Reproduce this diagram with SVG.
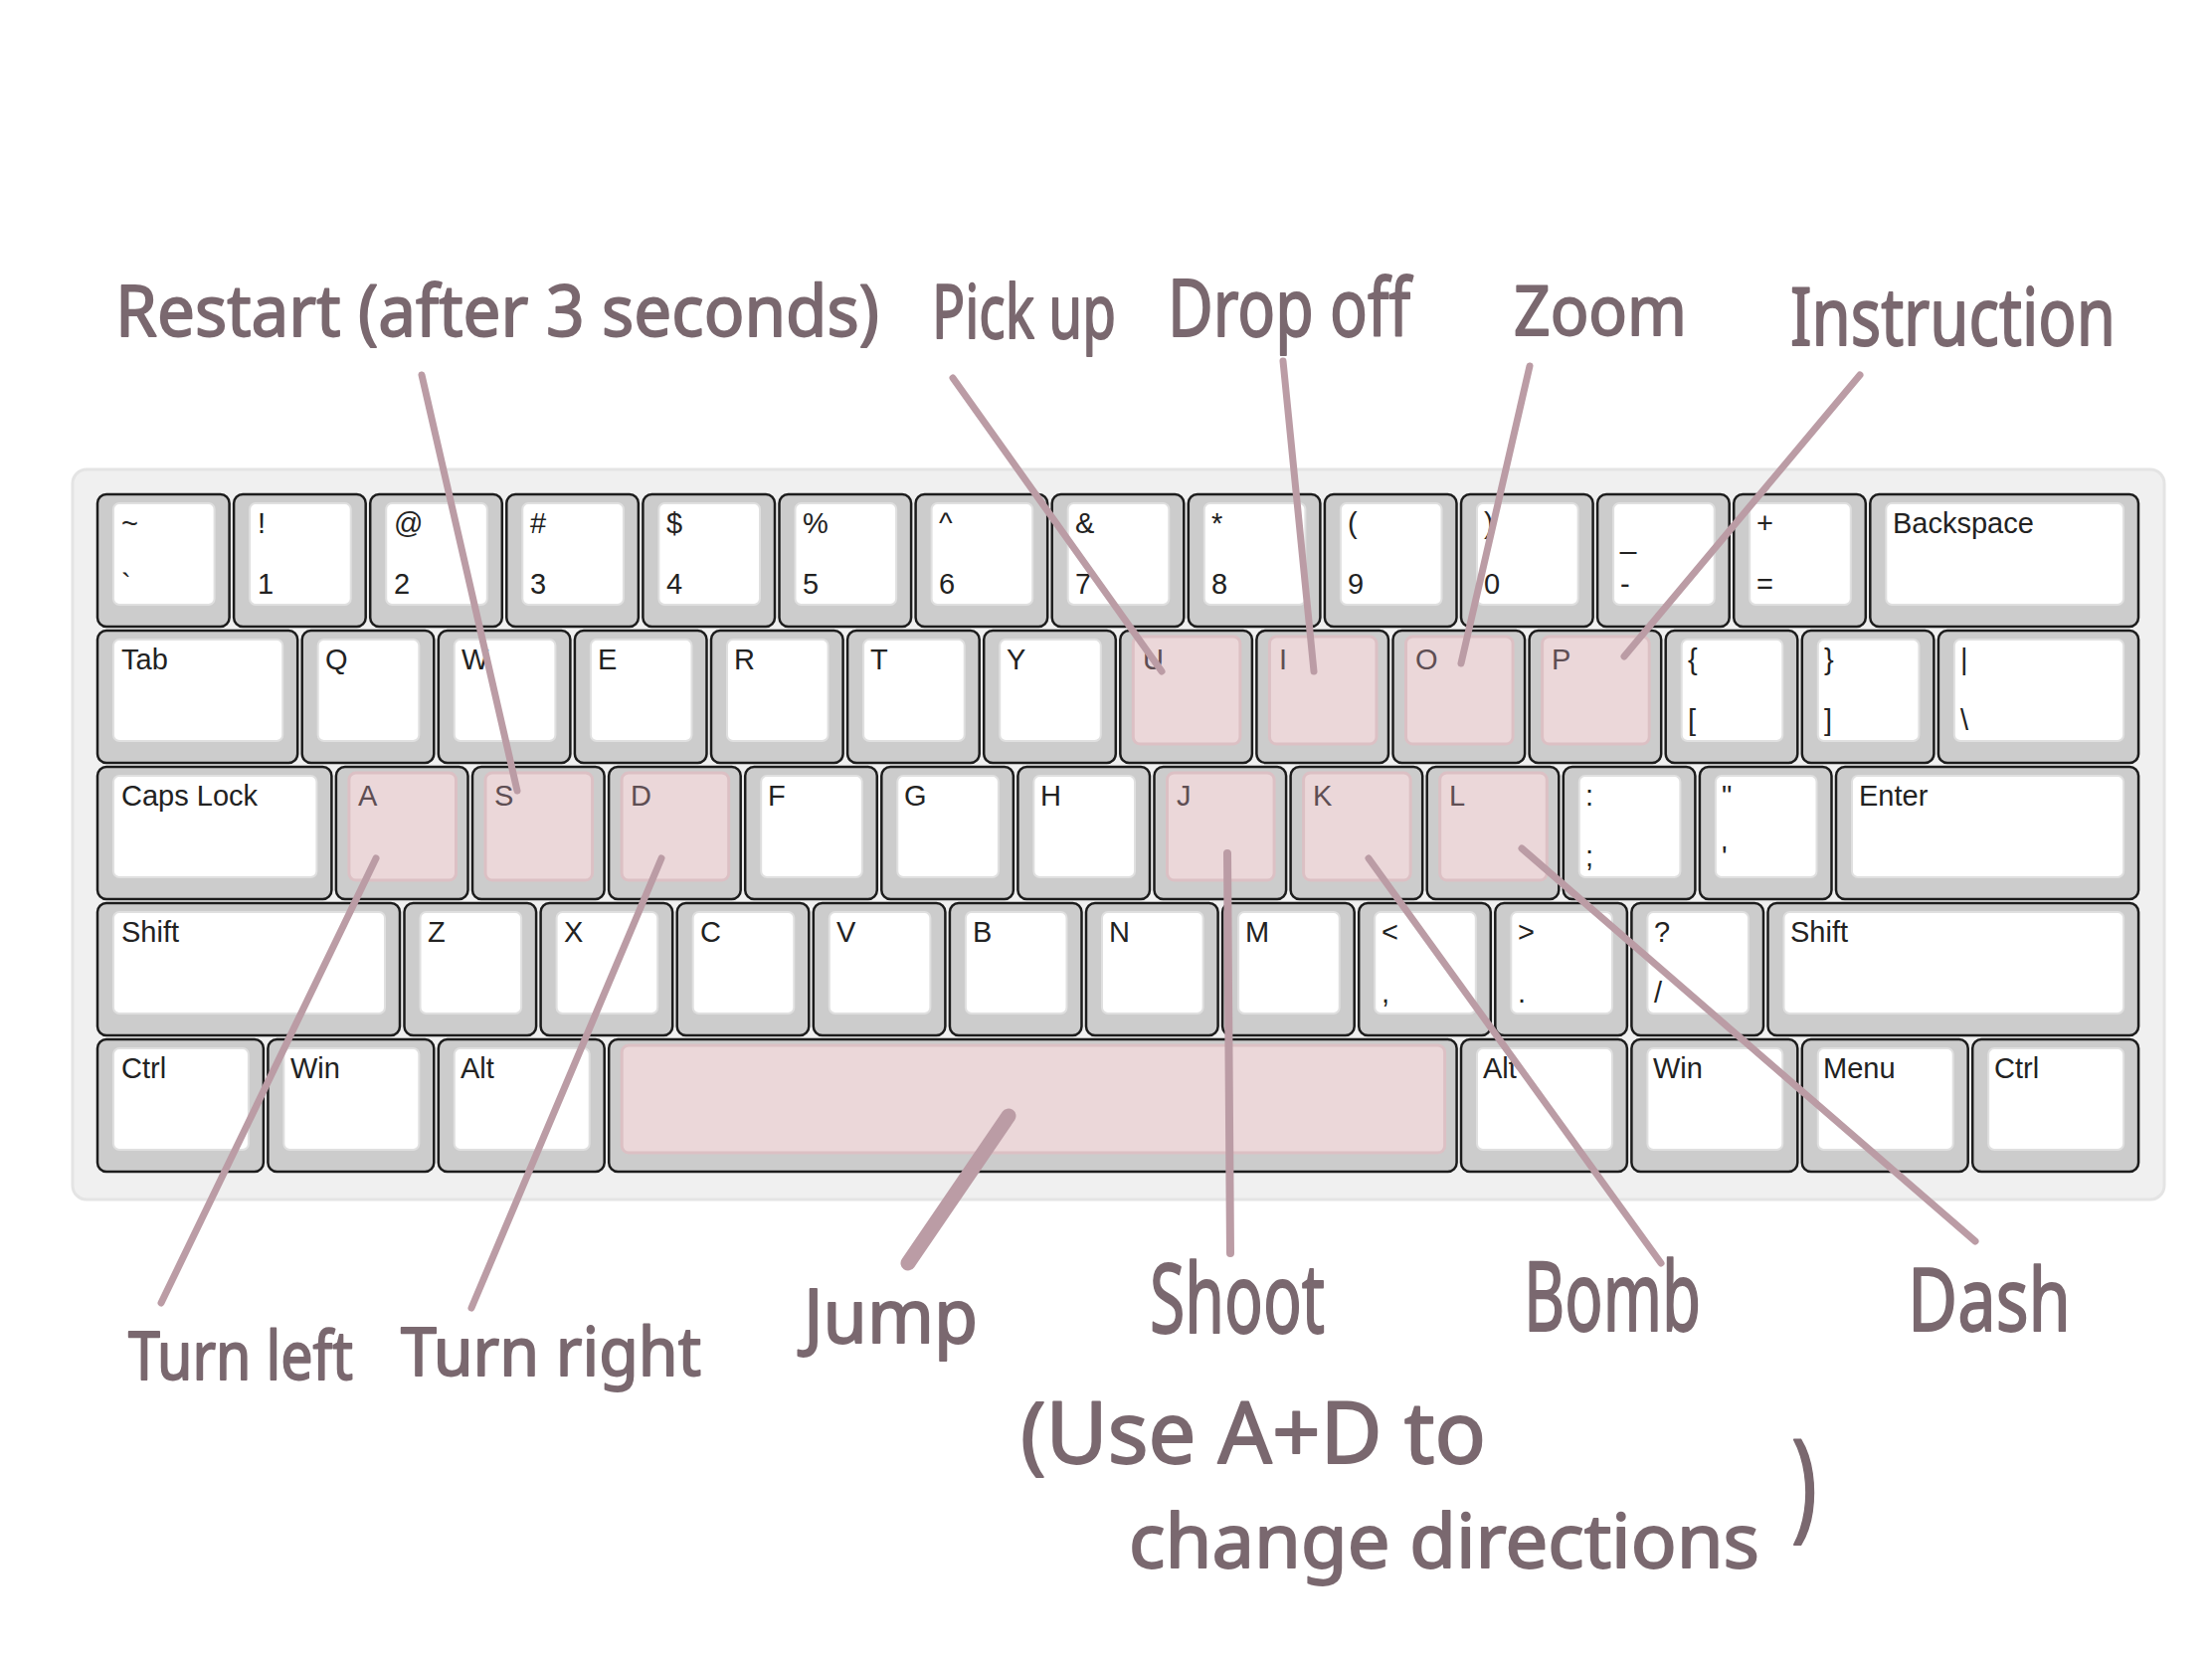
<svg xmlns="http://www.w3.org/2000/svg" width="2224" height="1668" viewBox="0 0 2224 1668">
<style>
.ko{fill:#cccccc;stroke:#1c1c1c;stroke-width:2.5}
.ki{fill:#ffffff;stroke:#e0e0e0;stroke-width:2}
.hl{fill:#ebd7d9;stroke:#dcc0c4;stroke-width:3}
.kl{font-family:"Liberation Sans",Arial,sans-serif;font-size:29px;fill:#222}
.kh{font-family:"Liberation Sans",Arial,sans-serif;font-size:29px;fill:#5e4e53}
.hw{font-family:"Noto Sans","Open Sans","DejaVu Sans",sans-serif;fill:#7a686f;stroke:#7a686f;stroke-width:1.8;stroke-linejoin:round}
.cn{stroke:#bb9ca5;stroke-width:7;stroke-linecap:round;fill:none}
</style>
<rect width="2224" height="1668" fill="#ffffff"/>
<rect id="case" x="73" y="472" width="2103" height="734" rx="14" fill="#f0f0f0" stroke="#e4e4e4" stroke-width="3"/>

<!-- Row 1 -->
<g id="k-tilde"><rect class="ko" x="98" y="497" width="132.6" height="133" rx="9"/><rect class="ki" x="114" y="506" width="101.6" height="102" rx="6"/><text class="kl" x="122" y="536">~</text><text class="kl" x="122" y="597">`</text></g>
<g id="k-1"><rect class="ko" x="235.1" y="497" width="132.6" height="133" rx="9"/><rect class="ki" x="251.1" y="506" width="101.6" height="102" rx="6"/><text class="kl" x="259" y="536">!</text><text class="kl" x="259" y="597">1</text></g>
<g id="k-2"><rect class="ko" x="372.2" y="497" width="132.6" height="133" rx="9"/><rect class="ki" x="388.2" y="506" width="101.6" height="102" rx="6"/><text class="kl" x="396" y="536">@</text><text class="kl" x="396" y="597">2</text></g>
<g id="k-3"><rect class="ko" x="509.3" y="497" width="132.6" height="133" rx="9"/><rect class="ki" x="525.3" y="506" width="101.6" height="102" rx="6"/><text class="kl" x="533" y="536">#</text><text class="kl" x="533" y="597">3</text></g>
<g id="k-4"><rect class="ko" x="646.4" y="497" width="132.6" height="133" rx="9"/><rect class="ki" x="662.4" y="506" width="101.6" height="102" rx="6"/><text class="kl" x="670" y="536">$</text><text class="kl" x="670" y="597">4</text></g>
<g id="k-5"><rect class="ko" x="783.5" y="497" width="132.6" height="133" rx="9"/><rect class="ki" x="799.5" y="506" width="101.6" height="102" rx="6"/><text class="kl" x="807" y="536">%</text><text class="kl" x="807" y="597">5</text></g>
<g id="k-6"><rect class="ko" x="920.6" y="497" width="132.6" height="133" rx="9"/><rect class="ki" x="936.6" y="506" width="101.6" height="102" rx="6"/><text class="kl" x="944" y="536">^</text><text class="kl" x="944" y="597">6</text></g>
<g id="k-7"><rect class="ko" x="1057.7" y="497" width="132.6" height="133" rx="9"/><rect class="ki" x="1073.7" y="506" width="101.6" height="102" rx="6"/><text class="kl" x="1081" y="536">&amp;</text><text class="kl" x="1081" y="597">7</text></g>
<g id="k-8"><rect class="ko" x="1194.8" y="497" width="132.6" height="133" rx="9"/><rect class="ki" x="1210.8" y="506" width="101.6" height="102" rx="6"/><text class="kl" x="1218" y="536">*</text><text class="kl" x="1218" y="597">8</text></g>
<g id="k-9"><rect class="ko" x="1331.9" y="497" width="132.6" height="133" rx="9"/><rect class="ki" x="1347.9" y="506" width="101.6" height="102" rx="6"/><text class="kl" x="1355" y="536">(</text><text class="kl" x="1355" y="597">9</text></g>
<g id="k-0"><rect class="ko" x="1469" y="497" width="132.6" height="133" rx="9"/><rect class="ki" x="1485" y="506" width="101.6" height="102" rx="6"/><text class="kl" x="1492" y="536">)</text><text class="kl" x="1492" y="597">0</text></g>
<g id="k-minus"><rect class="ko" x="1606.1" y="497" width="132.6" height="133" rx="9"/><rect class="ki" x="1622.1" y="506" width="101.6" height="102" rx="6"/><text class="kl" x="1629" y="551">_</text><text class="kl" x="1629" y="597">-</text></g>
<g id="k-equal"><rect class="ko" x="1743.2" y="497" width="132.6" height="133" rx="9"/><rect class="ki" x="1759.2" y="506" width="101.6" height="102" rx="6"/><text class="kl" x="1766" y="536">+</text><text class="kl" x="1766" y="597">=</text></g>
<g id="k-backspace"><rect class="ko" x="1880.3" y="497" width="269.7" height="133" rx="9"/><rect class="ki" x="1896.3" y="506" width="238.7" height="102" rx="6"/><text class="kl" x="1903" y="536">Backspace</text></g>

<!-- Row 2 -->
<g id="k-tab"><rect class="ko" x="98" y="634" width="201.2" height="133" rx="9"/><rect class="ki" x="114" y="643" width="170.2" height="102" rx="6"/><text class="kl" x="122" y="673">Tab</text></g>
<g id="k-q"><rect class="ko" x="303.7" y="634" width="132.6" height="133" rx="9"/><rect class="ki" x="319.7" y="643" width="101.6" height="102" rx="6"/><text class="kl" x="327" y="673">Q</text></g>
<g id="k-w"><rect class="ko" x="440.8" y="634" width="132.6" height="133" rx="9"/><rect class="ki" x="456.8" y="643" width="101.6" height="102" rx="6"/><text class="kl" x="464" y="673">W</text></g>
<g id="k-e"><rect class="ko" x="577.9" y="634" width="132.6" height="133" rx="9"/><rect class="ki" x="593.9" y="643" width="101.6" height="102" rx="6"/><text class="kl" x="601" y="673">E</text></g>
<g id="k-r"><rect class="ko" x="715" y="634" width="132.6" height="133" rx="9"/><rect class="ki" x="731" y="643" width="101.6" height="102" rx="6"/><text class="kl" x="738" y="673">R</text></g>
<g id="k-t"><rect class="ko" x="852.1" y="634" width="132.6" height="133" rx="9"/><rect class="ki" x="868.1" y="643" width="101.6" height="102" rx="6"/><text class="kl" x="875" y="673">T</text></g>
<g id="k-y"><rect class="ko" x="989.2" y="634" width="132.6" height="133" rx="9"/><rect class="ki" x="1005.2" y="643" width="101.6" height="102" rx="6"/><text class="kl" x="1012" y="673">Y</text></g>
<g id="k-u"><rect class="ko" x="1126.3" y="634" width="132.6" height="133" rx="9"/><rect class="hl" x="1139.3" y="640" width="107.6" height="108" rx="7"/><text class="kh" x="1149" y="673">U</text></g>
<g id="k-i"><rect class="ko" x="1263.4" y="634" width="132.6" height="133" rx="9"/><rect class="hl" x="1276.4" y="640" width="107.6" height="108" rx="7"/><text class="kh" x="1286" y="673">I</text></g>
<g id="k-o"><rect class="ko" x="1400.5" y="634" width="132.6" height="133" rx="9"/><rect class="hl" x="1413.5" y="640" width="107.6" height="108" rx="7"/><text class="kh" x="1423" y="673">O</text></g>
<g id="k-p"><rect class="ko" x="1537.6" y="634" width="132.6" height="133" rx="9"/><rect class="hl" x="1550.6" y="640" width="107.6" height="108" rx="7"/><text class="kh" x="1560" y="673">P</text></g>
<g id="k-lbracket"><rect class="ko" x="1674.7" y="634" width="132.6" height="133" rx="9"/><rect class="ki" x="1690.7" y="643" width="101.6" height="102" rx="6"/><text class="kl" x="1697" y="673">{</text><text class="kl" x="1697" y="734">[</text></g>
<g id="k-rbracket"><rect class="ko" x="1811.8" y="634" width="132.6" height="133" rx="9"/><rect class="ki" x="1827.8" y="643" width="101.6" height="102" rx="6"/><text class="kl" x="1834" y="673">}</text><text class="kl" x="1834" y="734">]</text></g>
<g id="k-backslash"><rect class="ko" x="1948.9" y="634" width="201.2" height="133" rx="9"/><rect class="ki" x="1964.9" y="643" width="170.2" height="102" rx="6"/><text class="kl" x="1971" y="673">|</text><text class="kl" x="1971" y="734">\</text></g>

<!-- Row 3 -->
<g id="k-caps"><rect class="ko" x="98" y="771" width="235.4" height="133" rx="9"/><rect class="ki" x="114" y="780" width="204.4" height="102" rx="6"/><text class="kl" x="122" y="810">Caps Lock</text></g>
<g id="k-a"><rect class="ko" x="337.9" y="771" width="132.6" height="133" rx="9"/><rect class="hl" x="350.9" y="777" width="107.6" height="108" rx="7"/><text class="kh" x="360" y="810">A</text></g>
<g id="k-s"><rect class="ko" x="475" y="771" width="132.6" height="133" rx="9"/><rect class="hl" x="488" y="777" width="107.6" height="108" rx="7"/><text class="kh" x="497" y="810">S</text></g>
<g id="k-d"><rect class="ko" x="612.1" y="771" width="132.6" height="133" rx="9"/><rect class="hl" x="625.1" y="777" width="107.6" height="108" rx="7"/><text class="kh" x="634" y="810">D</text></g>
<g id="k-f"><rect class="ko" x="749.2" y="771" width="132.6" height="133" rx="9"/><rect class="ki" x="765.2" y="780" width="101.6" height="102" rx="6"/><text class="kl" x="772" y="810">F</text></g>
<g id="k-g"><rect class="ko" x="886.3" y="771" width="132.6" height="133" rx="9"/><rect class="ki" x="902.3" y="780" width="101.6" height="102" rx="6"/><text class="kl" x="909" y="810">G</text></g>
<g id="k-h"><rect class="ko" x="1023.4" y="771" width="132.6" height="133" rx="9"/><rect class="ki" x="1039.4" y="780" width="101.6" height="102" rx="6"/><text class="kl" x="1046" y="810">H</text></g>
<g id="k-j"><rect class="ko" x="1160.5" y="771" width="132.6" height="133" rx="9"/><rect class="hl" x="1173.5" y="777" width="107.6" height="108" rx="7"/><text class="kh" x="1183" y="810">J</text></g>
<g id="k-k"><rect class="ko" x="1297.6" y="771" width="132.6" height="133" rx="9"/><rect class="hl" x="1310.6" y="777" width="107.6" height="108" rx="7"/><text class="kh" x="1320" y="810">K</text></g>
<g id="k-l"><rect class="ko" x="1434.7" y="771" width="132.6" height="133" rx="9"/><rect class="hl" x="1447.7" y="777" width="107.6" height="108" rx="7"/><text class="kh" x="1457" y="810">L</text></g>
<g id="k-semicolon"><rect class="ko" x="1571.8" y="771" width="132.6" height="133" rx="9"/><rect class="ki" x="1587.8" y="780" width="101.6" height="102" rx="6"/><text class="kl" x="1594" y="810">:</text><text class="kl" x="1594" y="871">;</text></g>
<g id="k-quote"><rect class="ko" x="1708.9" y="771" width="132.6" height="133" rx="9"/><rect class="ki" x="1724.9" y="780" width="101.6" height="102" rx="6"/><text class="kl" x="1731" y="810">"</text><text class="kl" x="1731" y="871">'</text></g>
<g id="k-enter"><rect class="ko" x="1846" y="771" width="304.1" height="133" rx="9"/><rect class="ki" x="1862" y="780" width="273.1" height="102" rx="6"/><text class="kl" x="1869" y="810">Enter</text></g>

<!-- Row 4 -->
<g id="k-lshift"><rect class="ko" x="98" y="908" width="304" height="133" rx="9"/><rect class="ki" x="114" y="917" width="273" height="102" rx="6"/><text class="kl" x="122" y="947">Shift</text></g>
<g id="k-z"><rect class="ko" x="406.5" y="908" width="132.6" height="133" rx="9"/><rect class="ki" x="422.5" y="917" width="101.6" height="102" rx="6"/><text class="kl" x="430" y="947">Z</text></g>
<g id="k-x"><rect class="ko" x="543.6" y="908" width="132.6" height="133" rx="9"/><rect class="ki" x="559.6" y="917" width="101.6" height="102" rx="6"/><text class="kl" x="567" y="947">X</text></g>
<g id="k-c"><rect class="ko" x="680.7" y="908" width="132.6" height="133" rx="9"/><rect class="ki" x="696.7" y="917" width="101.6" height="102" rx="6"/><text class="kl" x="704" y="947">C</text></g>
<g id="k-v"><rect class="ko" x="817.8" y="908" width="132.6" height="133" rx="9"/><rect class="ki" x="833.8" y="917" width="101.6" height="102" rx="6"/><text class="kl" x="841" y="947">V</text></g>
<g id="k-b"><rect class="ko" x="954.9" y="908" width="132.6" height="133" rx="9"/><rect class="ki" x="970.9" y="917" width="101.6" height="102" rx="6"/><text class="kl" x="978" y="947">B</text></g>
<g id="k-n"><rect class="ko" x="1092" y="908" width="132.6" height="133" rx="9"/><rect class="ki" x="1108" y="917" width="101.6" height="102" rx="6"/><text class="kl" x="1115" y="947">N</text></g>
<g id="k-m"><rect class="ko" x="1229.1" y="908" width="132.6" height="133" rx="9"/><rect class="ki" x="1245.1" y="917" width="101.6" height="102" rx="6"/><text class="kl" x="1252" y="947">M</text></g>
<g id="k-comma"><rect class="ko" x="1366.2" y="908" width="132.6" height="133" rx="9"/><rect class="ki" x="1382.2" y="917" width="101.6" height="102" rx="6"/><text class="kl" x="1389" y="947">&lt;</text><text class="kl" x="1389" y="1008">,</text></g>
<g id="k-period"><rect class="ko" x="1503.3" y="908" width="132.6" height="133" rx="9"/><rect class="ki" x="1519.3" y="917" width="101.6" height="102" rx="6"/><text class="kl" x="1526" y="947">&gt;</text><text class="kl" x="1526" y="1008">.</text></g>
<g id="k-slash"><rect class="ko" x="1640.4" y="908" width="132.6" height="133" rx="9"/><rect class="ki" x="1656.4" y="917" width="101.6" height="102" rx="6"/><text class="kl" x="1663" y="947">?</text><text class="kl" x="1663" y="1008">/</text></g>
<g id="k-rshift"><rect class="ko" x="1777.5" y="908" width="372.6" height="133" rx="9"/><rect class="ki" x="1793.5" y="917" width="341.6" height="102" rx="6"/><text class="kl" x="1800" y="947">Shift</text></g>

<!-- Row 5 -->
<g id="k-lctrl"><rect class="ko" x="98" y="1045" width="166.9" height="133" rx="9"/><rect class="ki" x="114" y="1054" width="135.9" height="102" rx="6"/><text class="kl" x="122" y="1084">Ctrl</text></g>
<g id="k-lwin"><rect class="ko" x="269.4" y="1045" width="166.9" height="133" rx="9"/><rect class="ki" x="285.4" y="1054" width="135.9" height="102" rx="6"/><text class="kl" x="292" y="1084">Win</text></g>
<g id="k-lalt"><rect class="ko" x="440.8" y="1045" width="166.9" height="133" rx="9"/><rect class="ki" x="456.8" y="1054" width="135.9" height="102" rx="6"/><text class="kl" x="463" y="1084">Alt</text></g>
<g id="k-space"><rect class="ko" x="612.2" y="1045" width="852.4" height="133" rx="9"/><rect class="hl" x="625.2" y="1051" width="827.4" height="108" rx="7"/></g>
<g id="k-ralt"><rect class="ko" x="1469" y="1045" width="166.9" height="133" rx="9"/><rect class="ki" x="1485" y="1054" width="135.9" height="102" rx="6"/><text class="kl" x="1491" y="1084">Alt</text></g>
<g id="k-rwin"><rect class="ko" x="1640.4" y="1045" width="166.9" height="133" rx="9"/><rect class="ki" x="1656.4" y="1054" width="135.9" height="102" rx="6"/><text class="kl" x="1662" y="1084">Win</text></g>
<g id="k-menu"><rect class="ko" x="1811.8" y="1045" width="166.9" height="133" rx="9"/><rect class="ki" x="1827.8" y="1054" width="135.9" height="102" rx="6"/><text class="kl" x="1833" y="1084">Menu</text></g>
<g id="k-rctrl"><rect class="ko" x="1983.2" y="1045" width="166.9" height="133" rx="9"/><rect class="ki" x="1999.2" y="1054" width="135.9" height="102" rx="6"/><text class="kl" x="2005" y="1084">Ctrl</text></g>

<!-- Connectors -->
<g id="connectors">
<line class="cn" x1="424" y1="377" x2="520" y2="795"/>
<line class="cn" x1="958" y1="380" x2="1168" y2="675"/>
<line class="cn" x1="1290" y1="363" x2="1321" y2="675"/>
<line class="cn" x1="1538" y1="368" x2="1469" y2="667"/>
<line class="cn" x1="1870" y1="377" x2="1633" y2="660"/>
<line class="cn" x1="378" y1="863" x2="162" y2="1310"/>
<line class="cn" x1="665" y1="863" x2="474" y2="1315"/>
<line class="cn" x1="1014" y1="1122" x2="913" y2="1270" style="stroke-width:15"/>
<line class="cn" x1="1234" y1="858" x2="1237" y2="1260" style="stroke-width:8"/>
<line class="cn" x1="1376" y1="863" x2="1670" y2="1270"/>
<line class="cn" x1="1530" y1="853" x2="1986" y2="1248"/>
</g>

<!-- Handwritten labels -->
<g id="lbl-restart"><text class="hw" x="116" y="338" font-size="72" textLength="768" lengthAdjust="spacingAndGlyphs">Restart (after 3 seconds)</text></g>
<g id="lbl-pickup"><text class="hw" x="937" y="340" font-size="74" textLength="185" lengthAdjust="spacingAndGlyphs">Pick up</text></g>
<g id="lbl-dropoff"><text class="hw" x="1174" y="338" font-size="80" textLength="244" lengthAdjust="spacingAndGlyphs">Drop off</text></g>
<g id="lbl-zoom"><text class="hw" x="1522" y="337" font-size="70" textLength="174" lengthAdjust="spacingAndGlyphs">Zoom</text></g>
<g id="lbl-instruction"><text class="hw" x="1800" y="347" font-size="80" textLength="327" lengthAdjust="spacingAndGlyphs">Instruction</text></g>
<g id="lbl-turnleft"><text class="hw" x="129" y="1387" font-size="68" textLength="226" lengthAdjust="spacingAndGlyphs">Turn left</text></g>
<g id="lbl-turnright"><text class="hw" x="403" y="1383" font-size="68" textLength="302" lengthAdjust="spacingAndGlyphs">Turn right</text></g>
<g id="lbl-jump"><text class="hw" x="808" y="1350" font-size="74" textLength="175" lengthAdjust="spacingAndGlyphs">Jump</text></g>
<g id="lbl-shoot"><text class="hw" x="1156" y="1340" font-size="96" textLength="176" lengthAdjust="spacingAndGlyphs">Shoot</text></g>
<g id="lbl-bomb"><text class="hw" x="1532" y="1338" font-size="96" textLength="178" lengthAdjust="spacingAndGlyphs">Bomb</text></g>
<g id="lbl-dash"><text class="hw" x="1918" y="1338" font-size="88" textLength="164" lengthAdjust="spacingAndGlyphs">Dash</text></g>
<g id="lbl-note"><text class="hw"><tspan x="1026" y="1471" font-size="86" textLength="468" lengthAdjust="spacingAndGlyphs">(Use A+D to</tspan><tspan x="1135" y="1576" font-size="74" textLength="634" lengthAdjust="spacingAndGlyphs">change directions</tspan><tspan x="1801" y="1534" font-size="120" textLength="26" lengthAdjust="spacingAndGlyphs">)</tspan></text></g>
</svg>
